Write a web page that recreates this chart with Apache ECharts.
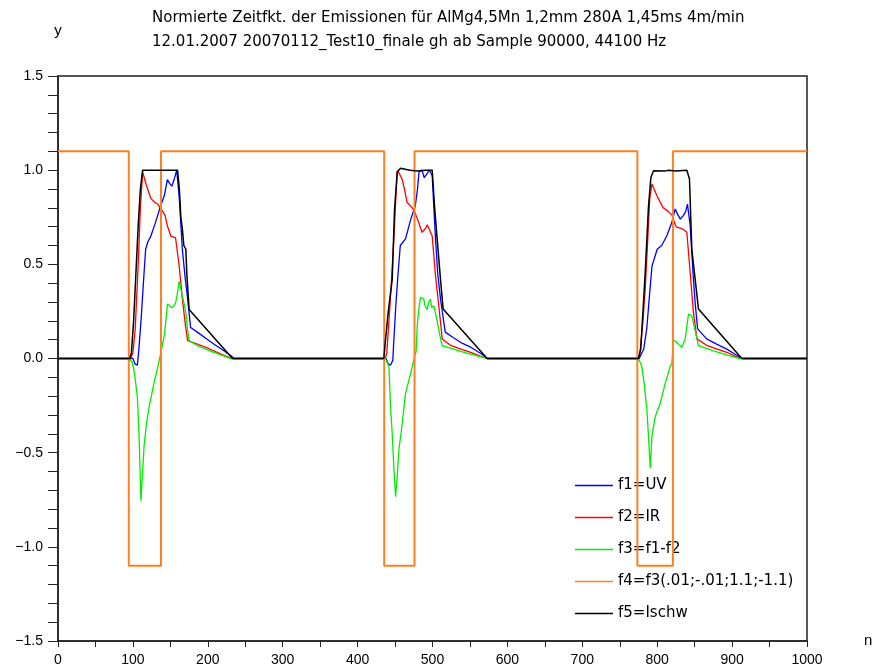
<!DOCTYPE html>
<html>
<head>
<meta charset="utf-8">
<script src="https://cdn.jsdelivr.net/npm/echarts@6/dist/echarts.min.js"></script>
<style>html,body{margin:0;padding:0;background:#fff}#c{width:882px;height:670px}</style>
</head>
<body>
<div id="c"></div>
<script>
const titleLines = [
  "Normierte Zeitfkt. der Emissionen für AlMg4,5Mn 1,2mm 280A 1,45ms 4m/min",
  "12.01.2007 20070112_Test10_finale gh ab Sample 90000, 44100 Hz"
];
const seriesNames = ["f1=UV", "f2=IR", "f3=f1-f2", "f4=f3(.01;-.01;1.1;-1.1)", "f5=Ischw"];
const xTicks = [0,100,200,300,400,500,600,700,800,900,1000];
const yTicks = [-1.5,-1.0,-0.5,0.0,0.5,1.0,1.5];

const f1 = [[0,0],[100,0],[103,-0.03],[106,-0.035],[108,0.05],[111,0.21],[114,0.4],[117,0.58],[120,0.62],[124,0.65],[130,0.72],[137,0.81],[142,0.865],[146,0.95],[149,0.93],[152,0.915],[155,0.95],[158.5,1.0],[162,0.85],[166,0.58],[170,0.42],[173,0.32],[177,0.165],[186,0.14],[200,0.1],[208,0.077],[220,0.045],[231,0.015],[235,0],
  [438,0],[441,-0.03],[444,-0.035],[447,-0.01],[448,0.07],[451,0.28],[454,0.45],[457,0.6],[464,0.635],[471,0.74],[477,0.81],[480,0.9],[482,0.99],[486,1.0],[489,0.96],[491,0.97],[496,1.0],[499.6,0.97],[504,0.635],[507,0.45],[510.7,0.316],[517,0.14],[528,0.11],[540,0.08],[551,0.06],[565,0.025],[573,0],
  [776,0],[778,-0.01],[782,0.05],[786,0.157],[790,0.35],[793,0.49],[800,0.58],[806,0.6],[813,0.653],[819.6,0.723],[824,0.794],[828,0.76],[831,0.74],[835,0.76],[838,0.78],[840.4,0.82],[844,0.706],[848.4,0.42],[851,0.28],[854,0.157],[866,0.104],[880,0.075],[893,0.05],[905,0.02],[913,0],[1000,0]];

const f2 = [[0,0],[97,0],[100,0.03],[103,0.15],[107,0.49],[110,0.8],[113,0.99],[118,0.92],[124,0.85],[129,0.83],[133,0.82],[139,0.785],[143,0.76],[146,0.705],[150.7,0.65],[157,0.64],[161.8,0.49],[166,0.32],[170,0.18],[173,0.095],[186,0.077],[200,0.055],[208,0.04],[220,0.02],[232,0],
  [437,0],[439,0.03],[442,0.21],[445,0.4],[448.4,0.635],[451,0.85],[453,0.998],[456,0.98],[459.6,0.95],[463,0.89],[466,0.83],[473,0.80],[476,0.78],[480,0.74],[486,0.67],[490.7,0.69],[493,0.71],[495,0.706],[499.6,0.65],[504,0.44],[508.4,0.28],[513,0.104],[524,0.07],[538,0.05],[551,0.033],[565,0.01],[573,0],
  [775,0],[777,0.03],[781,0.2],[784,0.37],[787,0.6],[790,0.847],[793,0.927],[799.6,0.864],[808,0.80],[815,0.78],[820,0.76],[823,0.72],[826,0.697],[833,0.69],[839.6,0.67],[844,0.457],[848.4,0.245],[853,0.104],[866,0.07],[880,0.05],[893,0.033],[905,0.01],[913,0],[1000,0]];

const f3 = [[0,0],[95,0],[99,-0.02],[102,-0.073],[106,-0.206],[108.4,-0.43],[110.7,-0.755],[113,-0.6],[115,-0.46],[118,-0.35],[122,-0.25],[128.4,-0.126],[133,-0.05],[137.3,0.03],[141.8,0.12],[144,0.2],[146.2,0.29],[151.6,0.27],[155,0.28],[157.3,0.30],[160,0.36],[161.8,0.41],[166.2,0.33],[170.7,0.245],[173,0.15],[175.1,0.095],[186.2,0.068],[200,0.045],[208,0.033],[220,0.015],[230,0],
  [437,0],[441.8,-0.043],[444,-0.256],[446.2,-0.4],[448.4,-0.575],[450.7,-0.734],[452.9,-0.627],[455.1,-0.486],[459.6,-0.344],[464,-0.185],[470.7,-0.08],[475.1,-0.008],[478.2,0.04],[479.6,0.174],[482,0.27],[484,0.325],[488.4,0.315],[490,0.28],[492.9,0.26],[495,0.3],[497.3,0.315],[499,0.27],[501.8,0.28],[506.2,0.2],[510,0.12],[512.9,0.068],[528.4,0.05],[540,0.035],[550.7,0.023],[565,0.008],[573,0],
  [775,0],[779.5,-0.043],[782.6,-0.132],[786.2,-0.27],[788.4,-0.415],[790.7,-0.583],[792.9,-0.415],[797.3,-0.309],[804,-0.238],[810.7,-0.132],[817.3,-0.043],[819.6,-0.025],[821.8,0.095],[825,0.09],[828.4,0.075],[832.9,0.06],[837.3,0.104],[841.8,0.236],[846.2,0.227],[850.7,0.148],[855.1,0.068],[875.1,0.041],[897.3,0.014],[910,0],[1000,0]];

const f4 = [[0,1.1],[94.5,1.1],[94.5,-1.1],[137.5,-1.1],[137.5,1.1],[435.5,1.1],[435.5,-1.1],[476,-1.1],[476,1.1],[773.5,1.1],[773.5,-1.1],[821,-1.1],[821,1.1],[1000,1.1]];

const f5 = [[0,0],[96,0],[98,0.03],[101,0.2],[104,0.45],[107,0.7],[110,0.9],[113,1.0],[159.6,1.0],[162,0.9],[164,0.75],[166,0.69],[168,0.6],[170.7,0.58],[172,0.45],[175,0.26],[233,0],
  [435,0],[437.3,0.1],[441,0.25],[446.2,0.42],[449.3,0.79],[452.9,0.99],[457.3,1.01],[470,1.0],[480,0.995],[490,1.0],[499.6,1.0],[502.7,0.81],[506.2,0.635],[510.7,0.42],[514.2,0.263],[573,0],
  [775,0],[778,0.05],[781,0.25],[784,0.458],[788.4,0.81],[791.6,0.962],[795.1,0.997],[810,0.995],[815,1.0],[825,0.995],[839.6,1.0],[843.1,0.953],[846.2,0.58],[850.7,0.42],[855.1,0.263],[913,0],[1000,0]];

const colors = ["#0000ff", "#ff0000", "#00ee00", "#ff8020", "#000000"];
const widths = [1.3, 1.3, 1.3, 2, 1.5];
const allData = [f1, f2, f3, f4, f5];

const FONT = "Liberation Sans";
const WFONT = "DejaVu Sans";
const chart = echarts.init(document.getElementById('c'), null, {renderer: 'canvas'});
chart.setOption({
  animation: false,
  backgroundColor: '#fff',
  title: {
    text: titleLines.join('\n'),
    left: 152, top: 6, padding: 0,
    textStyle: {fontFamily: WFONT, fontSize: 15, fontWeight: 'normal', color: '#000', lineHeight: 24}
  },
  grid: {left: 58, right: 75, top: 76, bottom: 29, show: true, borderColor: '#222', borderWidth: 1.5, backgroundColor: 'transparent'},
  legend: {
    orient: 'vertical', left: 575, top: 478, padding: 0,
    icon: 'rect',
    itemWidth: 38, itemHeight: 1.5, itemGap: 17,
    data: seriesNames,
    textStyle: {fontFamily: WFONT, fontSize: 15, color: '#000'}
  },
  xAxis: {
    type: 'value', min: 0, max: 1000, interval: 50,
    name: 'n', nameLocation: 'end', nameGap: 57,
    nameTextStyle: {fontFamily: FONT, fontSize: 15, color: '#000', padding: [0, 0, 3, 0]},
    axisLine: {onZero: false, lineStyle: {color: '#222', width: 1.5}},
    axisTick: {length: 6, lineStyle: {color: '#222', width: 1}},
    splitLine: {show: false},
    axisLabel: {
      fontFamily: FONT, fontSize: 14, color: '#000', margin: 12,
      formatter: v => xTicks.indexOf(Math.round(v)) >= 0 && Math.abs(v - Math.round(v)) < 1e-6 ? String(Math.round(v)) : ''
    }
  },
  yAxis: {
    type: 'value', min: -1.5, max: 1.5, interval: 0.1,
    name: 'y', nameLocation: 'end', nameGap: 38,
    nameTextStyle: {fontFamily: FONT, fontSize: 15, color: '#000', align: 'center'},
    axisLine: {onZero: false, lineStyle: {color: '#222', width: 1.5}},
    axisTick: {length: 10, lineStyle: {color: '#222', width: 1}},
    splitLine: {show: false},
    axisLabel: {
      fontFamily: FONT, fontSize: 14, color: '#000', margin: 15,
      formatter: v => {
        const r = Math.round(v * 10);
        const t = yTicks.find(y => Math.round(y * 10) === r);
        if (t === undefined) return '';
        return (t < 0 ? '\u2212' : '') + Math.abs(t).toFixed(1);
      }
    }
  },
  series: seriesNames.map((name, i) => ({
    name, type: 'line', data: allData[i],
    symbol: 'none', showSymbol: false,
    color: colors[i],
    lineStyle: {color: colors[i], width: widths[i]},
    itemStyle: {color: colors[i]},
    z: 2 + i
  }))
});
</script>
</body>
</html>
